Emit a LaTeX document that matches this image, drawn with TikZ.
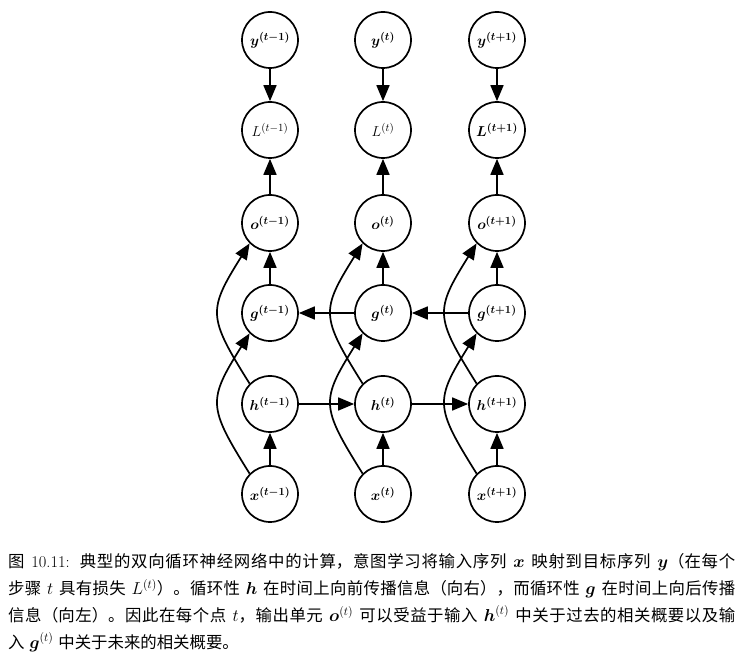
\documentclass[tikz,border=0pt]{standalone}
\usepackage{amsmath}
\usepackage{fontspec}
\newfontfamily\cjk{Noto Sans CJK SC}
\usetikzlibrary{arrows.meta}
\XeTeXlinebreaklocale "zh"
\XeTeXlinebreakskip=0pt plus 1pt
\begin{document}
\begin{tikzpicture}[x=1pt,y=1pt,
  unit/.style={circle,draw,line width=1.7pt,minimum size=56pt,inner sep=0pt,font=\fontsize{15}{18}\selectfont},
  arr/.style={line width=1.7pt,-{Triangle[length=16pt,width=13pt]}},
  curvearr/.style={arr,out=122,in=238,looseness=1.45},
  captext/.style={anchor=base west,text width=727pt,align=justify,inner sep=0pt,font=\fontsize{16.4}{26.7}\selectfont}]
\useasboundingbox (0,0) rectangle (742,653);
% columns
\foreach \i/\s/\cx in {1/t-1/270,2/t/383,3/t+1/497}{
  \node[unit] (y\i) at (\cx,613) {$\boldsymbol{y^{(\s)}}$};
  \node[unit] (o\i) at (\cx,430) {$\boldsymbol{o^{(\s)}}$};
  \node[unit] (g\i) at (\cx,340) {$\boldsymbol{g^{(\s)}}$};
  \node[unit] (h\i) at (\cx,249) {$\boldsymbol{h^{(\s)}}$};
  \node[unit] (x\i) at (\cx,159) {$\boldsymbol{x^{(\s)}}$};
}
\node[unit] (L1) at (270,523) {$L^{(t-1)}$};
\node[unit] (L2) at (383,523) {$L^{(t)}$};
\node[unit] (L3) at (497,523) {$\boldsymbol{L^{(t+1)}}$};
\foreach \i in {1,2,3}{
  \draw[arr] (y\i) -- (L\i);
  \draw[arr] (o\i) -- (L\i);
  \draw[arr] (g\i) -- (o\i);
  \draw[arr] (x\i) -- (h\i);
  \draw[curvearr] (h\i.135) to (o\i.225);
  \draw[curvearr] (x\i.135) to (g\i.225);
}
\draw[arr] (h1) -- (h2);
\draw[arr] (h2) -- (h3);
\draw[arr] (g2) -- (g1);
\draw[arr] (g3) -- (g2);
\node[captext] (cap) at (8,85) {{\cjk 图} 10.11: {\cjk 典型的双向循环神经网络中的计算，意图学习将输入序列} $\boldsymbol{x}$ {\cjk 映射到目标序列} $\boldsymbol{y}${\cjk （在每个}\linebreak
{\cjk 步骤} $t$ {\cjk 具有损失} $L^{(t)}${\cjk ）。循环性} $\boldsymbol{h}$ {\cjk 在时间上向前传播信息（向右），而循环性} $\boldsymbol{g}$ {\cjk 在时间上向后传播}\linebreak
{\cjk 信息（向左）。因此在每个点} $t${\cjk ，输出单元} $\boldsymbol{o}^{(t)}$ {\cjk 可以受益于输入} $\boldsymbol{h}^{(t)}$ {\cjk 中关于过去的相关概要以及输}\linebreak
{\cjk 入} $\boldsymbol{g}^{(t)}$ {\cjk 中关于未来的相关概要。}};
\end{tikzpicture}
\end{document}
